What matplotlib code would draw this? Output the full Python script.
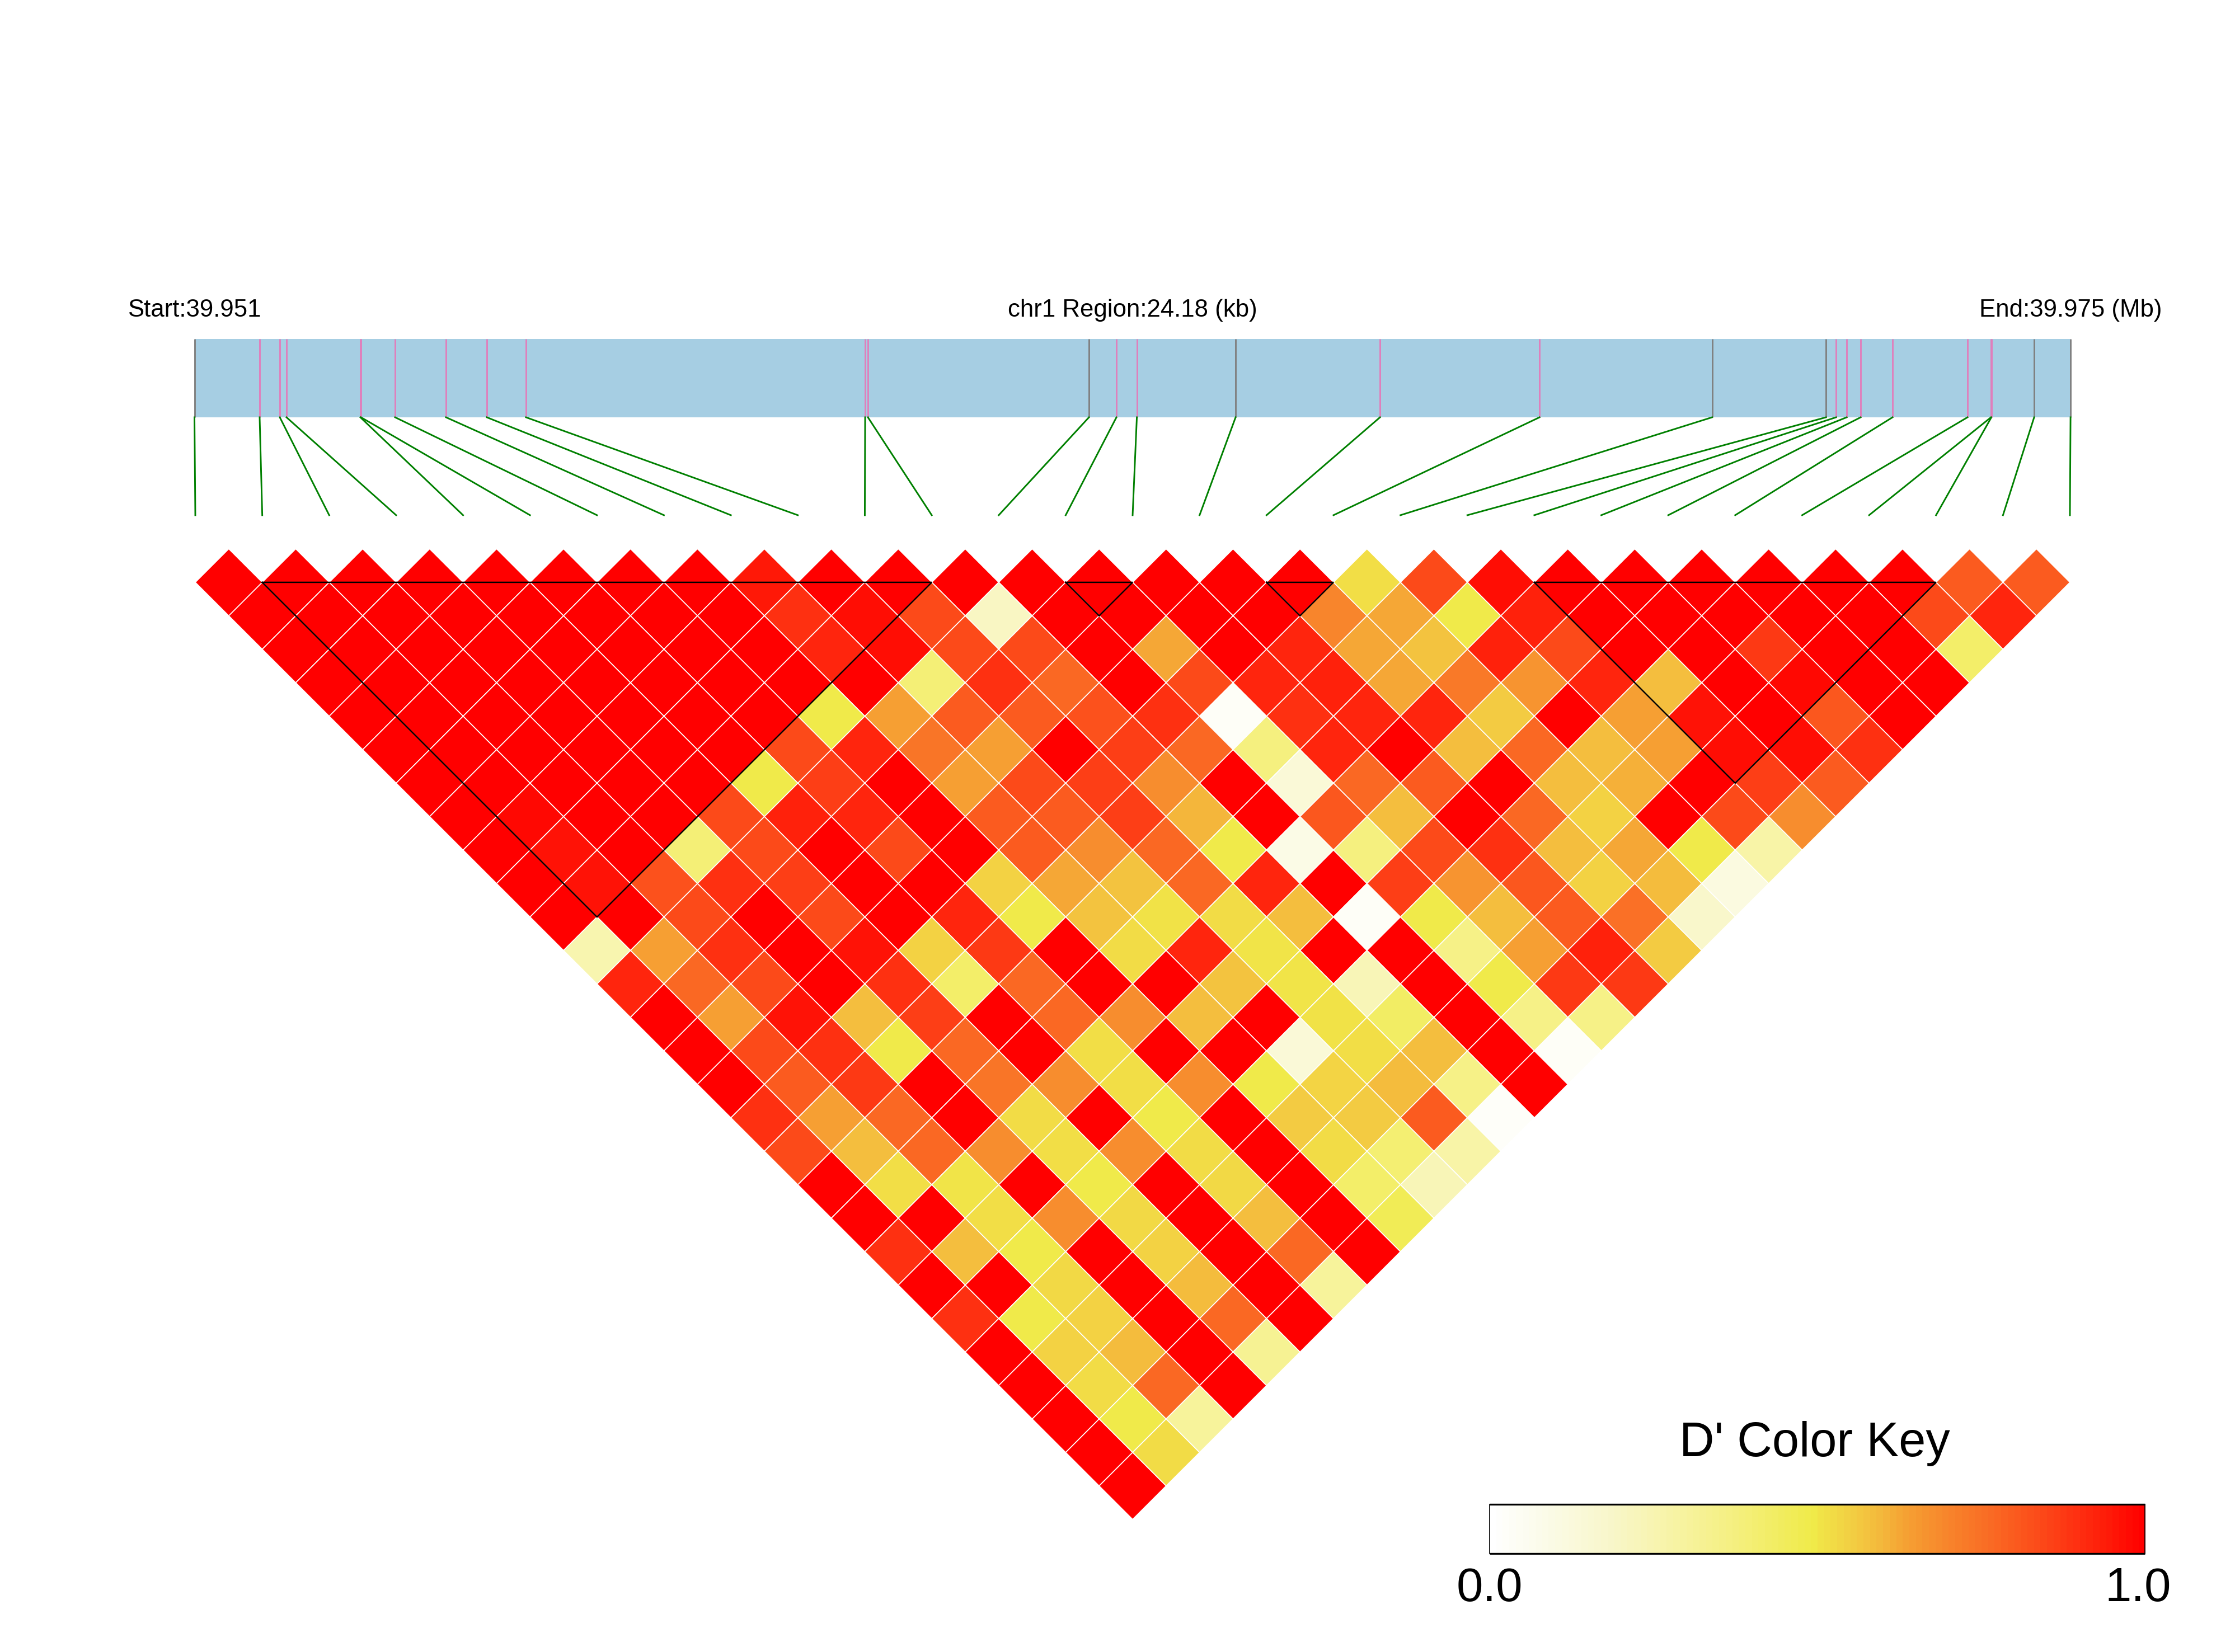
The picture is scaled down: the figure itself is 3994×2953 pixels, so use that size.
import numpy as np
import matplotlib
matplotlib.use("Agg")
import matplotlib.pyplot as plt
from matplotlib.collections import PolyCollection
from matplotlib.colors import LinearSegmentedColormap

plt.rcParams['font.family'] = ['Liberation Sans', 'DejaVu Sans']

# SNP positions along the region, in kb from the start
snp_pos = [0.0, 0.84, 1.10, 1.186, 2.138, 2.146, 2.586, 3.242, 3.768, 4.273,
           8.644, 8.68, 11.529, 11.883, 12.146, 13.419, 15.28, 17.336, 19.56, 21.028,
           21.158, 21.295, 21.475, 21.886, 22.852, 23.155, 23.16, 23.711, 24.18]
gray_snps = [0, 12, 15, 18, 19, 27, 28]
region_kb = 24.18

# D' values, one list per distance between the two SNPs (1 = neighbours)
ld_rows = [
    [1, 1, 1, 1, 1, 1, 1, 1, .95, 1, 1, 1, 1, 1, 1, 1, 1, .52, .84, .97, 1, 1, 1, 1, 1, 1, .8, .8],
    [1, 1, 1, 1, 1, 1, 1, 1, .895, .97, .84, .2, 1, 1, 1, 1, .7, .625, .49, .93, 1, 1, 1, 1, 1, .84, .92],
    [1, 1, 1, 1, 1, 1, 1, 1, .92, .97, .84, .84, 1, .625, 1, .92, .625, .58, .93, .84, 1, 1, .875, 1, 1, .42],
    [1, 1, 1, 1, 1, 1, 1, 1, 1, .39, .895, .77, 1, .84, .92, .93, .625, .73, .665, .92, .585, 1, .98, 1, 1],
    [1, 1, 1, 1, 1, 1, 1, .49, .64, .8, .8, .825, .895, .03, .895, .92, .92, .56, 1, .64, .96, 1, .81, 1],
    [1, 1, 1, 1, 1, 1, .84, .92, .74, .64, 1, .865, .77, .37, .92, 1, .585, .77, .585, .64, .97, .97, .895],
    [1, 1, 1, 1, 1, .49, .865, 1, .64, .84, .865, .68, 1, .14, .77, .8, 1, .585, .61, 1, .865, .8],
    [1, .98, 1, 1, .84, .93, .92, 1, .8, .8, .865, .6, 1, .81, .585, 1, .77, .545, 1, .84, .68],
    [1, .96, 1, .39, .84, 1, .84, 1, .8, .68, .77, .49, .09, .37, .84, .895, .585, .625, .49, .27],
    [1, .96, .825, .895, .865, 1, 1, .545, .625, .58, .77, .92, 1, .865, .665, .81, .545, .59, .11],
    [1, 1, .84, 1, .84, 1, .92, .49, .58, .51, .525, .585, .03, .49, .585, .8, .75, .18],
    [.25, .64, .895, 1, .96, .545, .875, 1, .525, .92, .505, 1, 1, .35, .64, .93, .56],
    [.92, .77, .84, 1, .895, .42, .77, 1, 1, .58, .505, .23, 1, .49, .875, .875],
    [1, .64, .96, .585, .865, 1, .77, .68, .585, 1, .51, .43, 1, .35, .35],
    [1, .84, .895, .49, .77, 1, .52, 1, 1, .14, .52, .585, 1, .03],
    [1, .8, .875, 1, .74, .68, .52, .68, .49, .54, .59, .35, 1],
    [.895, .64, .77, 1, .525, 1, .49, 1, .56, .56, .8, .02],
    [.84, .585, .77, .68, .52, .68, .525, 1, .525, .4, .27],
    [1, .52, .505, 1, .49, 1, .53, 1, .42, .23],
    [1, 1, .52, .68, .53, 1, .585, 1, .46],
    [.895, .585, .49, 1, .545, 1, .77, 1],
    [1, 1, .53, 1, .59, 1, .3],
    [.895, .49, .545, 1, .77, 1],
    [1, .545, .59, 1, .32],
    [1, .525, .77, 1],
    [1, .49, .3],
    [1, .525],
    [1],
]

# haplotype blocks as (first SNP, last SNP)
blocks = [(1, 11), (13, 14), (16, 17), (20, 26)]

key_stops = [0, .09, .18, .27, .37, .49, .525, .56, .6, .64, .7, .77, .84, .895, .95, 1]
key_colors = ['#FFFFFF', '#FBFBE6', '#F9F7CB', '#F8F4A8', '#F5F080', '#F0EB4A', '#F2DD46', '#F3CC42',
              '#F4B83C', '#F6A033', '#F8862C', '#FA6A24', '#FC4C1A', '#FE3212', '#FF1A08', '#FF0000']
cmap = LinearSegmentedColormap.from_list('dprime', list(zip(key_stops, key_colors)), N=200)

# layout, in pixels of the final picture
W, H = 3994, 2953
bar_left, bar_right = 347.5, 3700
bar_top, bar_bottom = 606.5, 746
link_bottom = 921
tri_left, step = 349, 119.64
half = step / 2
tri_top = 1041

fig = plt.figure(figsize=((W + .1) / 300, (H + .1) / 300), dpi=300)
ax = fig.add_axes([0, 0, 1, 1])
ax.set_xlim(0, W)
ax.set_ylim(H, 0)
ax.axis('off')

# gene bar with SNP ticks and the links down to the matrix
ax.fill_between([bar_left, bar_right], bar_top, bar_bottom, color='#A6CEE3', lw=0)
scale = (bar_right - bar_left) / region_kb
for i, pos in enumerate(snp_pos):
    x = bar_left + pos * scale
    col = '#808080' if i in gray_snps else '#E07FBC'
    ax.plot([x, x], [bar_top, bar_bottom], color=col, lw=.7, solid_capstyle='butt')
    ax.plot([x, tri_left + i * step], [bar_bottom, link_bottom], color='green', lw=.7)

ax.text(bar_left, 566, 'Start:39.951', ha='center', va='baseline', fontsize=10.5)
ax.text((bar_left + bar_right) / 2, 566, 'chr1 Region:24.18 (kb)', ha='center', va='baseline', fontsize=10.5)
ax.text(bar_right, 566, 'End:39.975 (Mb)', ha='center', va='baseline', fontsize=10.5)

# D' matrix
cells = []
vals = []
for d, row in enumerate(ld_rows, start=1):
    for i, v in enumerate(row):
        cx = tri_left + (i + d / 2) * step
        cy = tri_top + (d - 1) * half
        cells.append([(cx - half, cy), (cx, cy - half), (cx + half, cy), (cx, cy + half)])
        vals.append(v)
pc = PolyCollection(cells, array=np.array(vals), cmap=cmap, edgecolors='white', linewidths=.4)
pc.set_clim(0, 1)
ax.add_collection(pc)

for a, b in blocks:
    xa = tri_left + a * step
    xb = tri_left + b * step
    ax.plot([xa, xb, (xa + xb) / 2, xa], [tri_top, tri_top, tri_top + (b - a) * half, tri_top],
            color='black', lw=.6, solid_joinstyle='miter')

# colour key
key_left, key_right = 2662, 3833
key_top, key_bottom = 2689, 2777
key_vals = np.linspace(0, 1, 100).reshape(1, -1)
ax.imshow(key_vals, cmap=cmap, vmin=0, vmax=1, aspect='auto', interpolation='nearest',
          extent=[key_left, key_right, key_bottom, key_top])
ax.set_xlim(0, W)
ax.set_ylim(H, 0)
ax.plot([key_left, key_right], [key_top, key_top], color='black', lw=.8, solid_capstyle='butt')
ax.plot([key_left, key_right], [key_bottom, key_bottom], color='black', lw=.8, solid_capstyle='butt')
ax.plot([key_left, key_left], [key_top, key_bottom], color='black', lw=.4)
ax.plot([key_right, key_right], [key_top, key_bottom], color='black', lw=.4)
ax.text(3243, 2603, "D' Color Key", ha='center', va='baseline', fontsize=20.8)
ax.text(key_left, 2862, '0.0', ha='center', va='baseline', fontsize=20.5)
ax.text(3821, 2862, '1.0', ha='center', va='baseline', fontsize=20.5)

fig.savefig('out.png', dpi=300, facecolor='white')
